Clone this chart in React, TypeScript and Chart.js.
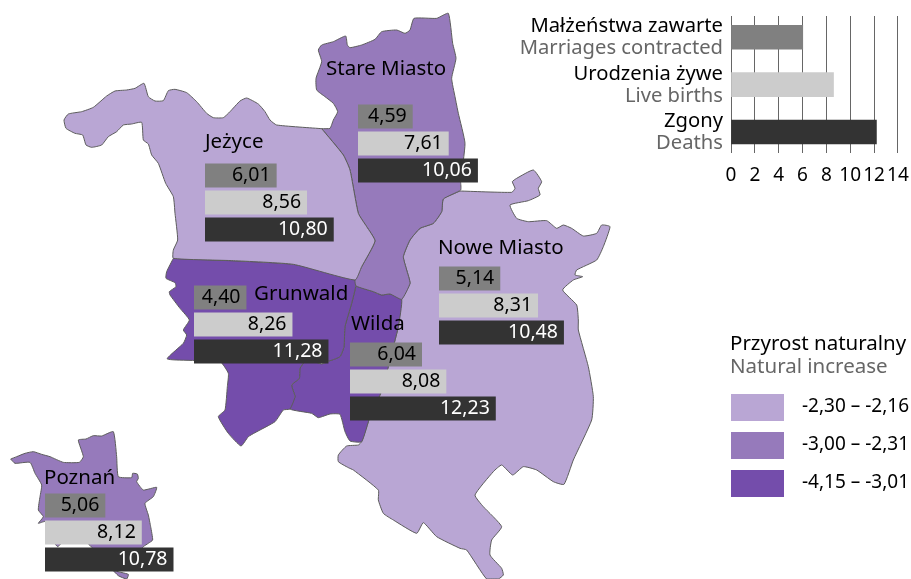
import { useEffect, useRef } from "react";
import { Chart, registerables } from "chart.js";

Chart.register(...registerables);

const FONT = '"Noto Sans", sans-serif';
const W = 911;
const H = 579;

// Map outlines in map units (1 unit = 1/3 px)
const jezyce = [[965,386],[830,375],[810,360],[795,335],[775,312],[740,294],[720,303],[690,335],[670,353],[640,353],[620,340],[590,305],[560,278],[525,268],[505,272],[490,302],[465,303],[445,290],[432,250],[405,265],[380,270],[345,273],[320,288],[280,322],[245,335],[205,342],[192,360],[198,385],[225,400],[248,405],[258,435],[275,442],[305,435],[325,410],[350,395],[370,375],[395,372],[425,367],[430,420],[445,432],[455,465],[475,490],[497,550],[520,590],[525,640],[533,720],[520,750],[520,775],[700,782],[880,793],[1065,840],[1085,800],[1125,723],[1100,680],[1075,640],[1050,510],[1030,465],[965,386]];
const stareMiasto = [[965,386],[1030,465],[1050,510],[1075,640],[1100,680],[1125,723],[1085,800],[1065,840],[1068,858],[1120,875],[1145,885],[1170,882],[1205,898],[1230,850],[1220,810],[1210,770],[1230,720],[1260,685],[1300,670],[1325,635],[1330,597],[1382,570],[1382,545],[1395,430],[1375,340],[1365,290],[1355,235],[1368,175],[1358,130],[1345,40],[1310,55],[1242,55],[1230,90],[1215,100],[1190,90],[1145,95],[1125,118],[1085,135],[1050,143],[1042,135],[1037,108],[1000,125],[965,135],[955,150],[965,185],[948,235],[950,270],[975,290],[1000,310],[1013,335],[1000,360],[990,385],[965,386]];
const grunwald = [[520,775],[880,793],[1065,840],[1068,855],[1055,910],[1035,980],[1032,1040],[1020,1070],[990,1082],[950,1085],[915,1085],[900,1105],[898,1135],[875,1155],[885,1190],[870,1227],[850,1230],[825,1265],[765,1298],[745,1310],[723,1338],[685,1300],[655,1250],[675,1230],[682,1160],[685,1120],[660,1085],[502,1077],[550,1030],[560,1005],[550,990],[568,960],[540,925],[510,885],[508,875],[528,860],[525,848],[498,835],[500,815],[520,775]];
const wilda = [[1068,858],[1120,875],[1145,885],[1170,882],[1205,898],[1195,980],[1180,1040],[1165,1100],[1142,1180],[1110,1250],[1085,1325],[1050,1323],[1035,1295],[1020,1243],[990,1242],[955,1253],[935,1240],[870,1227],[885,1190],[875,1155],[898,1135],[900,1105],[915,1085],[935,1082],[965,1092],[990,1082],[1020,1070],[1032,1040],[1035,980],[1055,910],[1068,858]];
const noweMiasto = [[1380,573],[1535,577],[1545,565],[1537,545],[1550,535],[1600,510],[1625,545],[1615,565],[1620,585],[1585,602],[1530,615],[1550,655],[1585,665],[1640,662],[1670,685],[1690,675],[1715,685],[1750,708],[1790,700],[1805,675],[1830,680],[1810,740],[1790,780],[1730,810],[1725,825],[1748,830],[1720,840],[1688,870],[1730,915],[1735,960],[1735,990],[1765,1100],[1780,1190],[1775,1260],[1720,1380],[1692,1453],[1660,1445],[1610,1410],[1570,1400],[1538,1425],[1505,1395],[1480,1415],[1425,1485],[1450,1520],[1505,1580],[1475,1620],[1470,1665],[1505,1705],[1510,1725],[1495,1737],[1460,1737],[1400,1650],[1380,1645],[1310,1610],[1270,1568],[1250,1600],[1180,1560],[1150,1540],[1135,1500],[1135,1470],[1060,1410],[1045,1403],[1015,1385],[1015,1365],[1040,1338],[1075,1335],[1085,1325],[1110,1250],[1142,1180],[1165,1100],[1180,1040],[1195,980],[1205,898],[1230,850],[1220,810],[1210,770],[1230,720],[1260,685],[1300,670],[1325,635],[1330,597],[1380,573]];
const poznan = [[32,1377],[50,1370],[75,1360],[100,1355],[125,1363],[150,1370],[190,1387],[238,1387],[250,1370],[235,1320],[258,1317],[280,1307],[305,1308],[340,1295],[350,1370],[355,1430],[395,1433],[398,1420],[412,1422],[415,1435],[410,1445],[430,1470],[470,1462],[460,1490],[435,1510],[445,1545],[452,1580],[458,1620],[445,1630],[430,1640],[400,1675],[340,1710],[385,1723],[380,1737],[355,1727],[300,1670],[262,1630],[185,1630],[173,1640],[160,1625],[135,1565],[115,1570],[130,1550],[115,1530],[120,1490],[125,1455],[105,1420],[90,1387],[45,1390],[32,1377]];

const LIGHT = "#b9a6d4";
const MID = "#967abb";
const DARK = "#744dab";

const mapShapes = [
  { name: "Jeżyce", outline: jezyce, color: LIGHT },
  { name: "Stare Miasto", outline: stareMiasto, color: MID },
  { name: "Grunwald", outline: grunwald, color: DARK },
  { name: "Wilda", outline: wilda, color: DARK },
  { name: "Nowe Miasto", outline: noweMiasto, color: LIGHT },
  { name: "Poznań", outline: poznan, color: MID },
];

// Values
const jezyceValues = [6.01, 8.56, 10.8];
const stareValues = [4.59, 7.61, 10.06];
const noweValues = [5.14, 8.31, 10.48];
const grunwaldValues = [4.4, 8.26, 11.28];
const wildaValues = [6.04, 8.08, 12.23];
const poznanValues = [5.06, 8.12, 10.78];
const keyValues = [6.02, 8.6, 12.2];

const measurePl = ["Małżeństwa zawarte", "Urodzenia żywe", "Zgony"];
const measureEn = ["Marriages contracted", "Live births", "Deaths"];
const measureColors = ["#808080", "#cccccc", "#333333"];
const valueTextColors = ["#000000", "#000000", "#ffffff"];
const xTicks = [0, 2, 4, 6, 8, 10, 12, 14];

const legendTitlePl = "Przyrost naturalny";
const legendTitleEn = "Natural increase";
const legendLabels = ["-2,30 – -2,16", "-3,00 – -2,31", "-4,15 – -3,01"];
const legendColors = [LIGHT, MID, DARK];

// Layout
const regionPanels = [
  { name: "Jeżyce", values: jezyceValues, left: 205, top: 162, labelX: 205, labelY: 148 },
  { name: "Stare Miasto", values: stareValues, left: 358, top: 103, labelX: 326, labelY: 75 },
  { name: "Nowe Miasto", values: noweValues, left: 439, top: 265, labelX: 438, labelY: 254 },
  { name: "Grunwald", values: grunwaldValues, left: 194, top: 284, labelX: 254, labelY: 300 },
  { name: "Wilda", values: wildaValues, left: 350, top: 341, labelX: 351, labelY: 330 },
  { name: "Poznań", values: poznanValues, left: 45, top: 492, labelX: 44, labelY: 484 },
];
const UNIT = 11.92;
const PANEL_W = UNIT * 14;
const ROW = 27;
const THICK = 24;
const legendKeyTops = [394, 432, 470];

const commaFmt = (v: number) => v.toFixed(2).replace(".", ",");

export default function App() {
  const mapRef = useRef<HTMLCanvasElement>(null);
  const keyRef = useRef<HTMLCanvasElement>(null);
  const panelRefs = useRef<(HTMLCanvasElement | null)[]>([]);

  useEffect(() => {
    const charts: Chart[] = [];

    charts.push(
      new Chart(mapRef.current!, {
        type: "scatter",
        data: {
          datasets: mapShapes.map((s) => ({
            label: s.name,
            data: s.outline.map(([x, y]) => ({ x, y })),
            showLine: true,
            fill: "shape",
            backgroundColor: s.color,
            borderColor: "#5c5c5c",
            borderWidth: 1,
            pointRadius: 0,
            tension: 0.15,
          })),
        },
        options: {
          responsive: false,
          animation: false,
          devicePixelRatio: 1,
          layout: { padding: 0 },
          plugins: { legend: { display: false }, tooltip: { enabled: false } },
          scales: {
            x: { type: "linear", min: 0, max: W * 3, display: false },
            y: { type: "linear", min: 0, max: H * 3, reverse: true, display: false },
          },
        },
      } as any)
    );

    regionPanels.forEach((p, i) => {
      charts.push(
        new Chart(panelRefs.current[i]!, {
          type: "bar",
          data: {
            labels: measurePl,
            datasets: [
              {
                data: p.values,
                backgroundColor: measureColors,
                barPercentage: THICK / ROW,
                categoryPercentage: 1,
              },
            ],
          },
          options: {
            indexAxis: "y",
            responsive: false,
            animation: false,
            devicePixelRatio: 1,
            layout: {
              padding: { left: p.left, top: p.top, right: W - p.left - PANEL_W, bottom: H - p.top - ROW * 3 },
            },
            plugins: { legend: { display: false }, tooltip: { enabled: false } },
            scales: {
              x: { type: "linear", min: 0, max: 14, display: false },
              y: { type: "category", display: false },
            },
          },
          plugins: [
            {
              id: "panelText",
              afterDatasetsDraw(chart: any) {
                const ctx = chart.ctx;
                const bars = chart.getDatasetMeta(0).data;
                ctx.save();
                ctx.font = `19.5px ${FONT}`;
                ctx.textAlign = "right";
                ctx.textBaseline = "middle";
                p.values.forEach((v, j) => {
                  ctx.fillStyle = valueTextColors[j];
                  ctx.fillText(commaFmt(v), bars[j].x - 6, bars[j].y);
                });
                ctx.font = `20.5px ${FONT}`;
                ctx.textAlign = "left";
                ctx.textBaseline = "alphabetic";
                ctx.fillStyle = "#000000";
                ctx.fillText(p.name, p.labelX, p.labelY);
                ctx.restore();
              },
            },
          ],
        } as any)
      );
    });

    charts.push(
      new Chart(keyRef.current!, {
        type: "bar",
        data: {
          datasets: [
            {
              data: keyValues.map((v, i) => ({ x: v, y: i })),
              backgroundColor: measureColors,
              barThickness: THICK,
            },
          ],
        },
        options: {
          indexAxis: "y",
          responsive: false,
          animation: false,
          devicePixelRatio: 1,
          layout: { padding: { left: 731, top: 16, right: W - 731 - PANEL_W, bottom: 396.3 } },
          plugins: { legend: { display: false }, tooltip: { enabled: false } },
          scales: {
            x: {
              type: "linear",
              min: 0,
              max: 14,
              afterBuildTicks(scale: any) {
                scale.ticks = xTicks.map((value) => ({ value }));
              },
              afterFit(scale: any) {
                scale.height = 30;
                scale.paddingLeft = 0;
                scale.paddingRight = 0;
              },
              grid: { color: "#666666", lineWidth: 1, drawTicks: false, drawOnChartArea: true },
              border: { display: false },
              ticks: { color: "#000000", font: { family: '"Noto Sans", sans-serif', size: 19 }, padding: 11, maxRotation: 0, autoSkip: false },
            },
            y: { type: "linear", min: -0.448, max: 2.436, offset: false, reverse: true, display: false },
          },
        },
        plugins: [
          {
            id: "keyText",
            afterDraw(chart: any) {
              const ctx = chart.ctx;
              const yScale = chart.scales.y;
              ctx.save();
              ctx.font = `20.2px ${FONT}`;
              ctx.textAlign = "right";
              measurePl.forEach((t, i) => {
                const c = yScale.getPixelForValue(i);
                ctx.fillStyle = "#000000";
                ctx.fillText(t, 723, c - 5);
                ctx.fillStyle = "#666666";
                ctx.fillText(measureEn[i], 723, c + 17);
              });
              ctx.textAlign = "left";
              ctx.font = `20.5px ${FONT}`;
              ctx.fillStyle = "#000000";
              ctx.fillText(legendTitlePl, 730, 350);
              ctx.fillStyle = "#666666";
              ctx.fillText(legendTitleEn, 730, 373);
              legendLabels.forEach((t, i) => {
                ctx.fillStyle = legendColors[i];
                ctx.fillRect(731, legendKeyTops[i], 53, 27);
                ctx.fillStyle = "#000000";
                ctx.font = `19px ${FONT}`;
                ctx.textAlign = "right";
                ctx.textBaseline = "middle";
                ctx.fillText(t, 909, legendKeyTops[i] + 13);
              });
              ctx.restore();
            },
          },
        ],
      } as any)
    );

    return () => charts.forEach((c) => c.destroy());
  }, []);

  const layer: React.CSSProperties = { position: "absolute", left: 0, top: 0, display: "block" };
  return (
    <div style={{ position: "absolute", left: 0, top: 0, width: W, height: H, overflow: "hidden", background: "#fff" }}>
      <canvas ref={mapRef} width={W} height={H} style={layer} />
      <canvas ref={keyRef} width={W} height={H} style={layer} />
      {regionPanels.map((p, i) => (
        <canvas
          key={p.name}
          ref={(el) => {
            panelRefs.current[i] = el;
          }}
          width={W}
          height={H}
          style={layer}
        />
      ))}
    </div>
  );
}
